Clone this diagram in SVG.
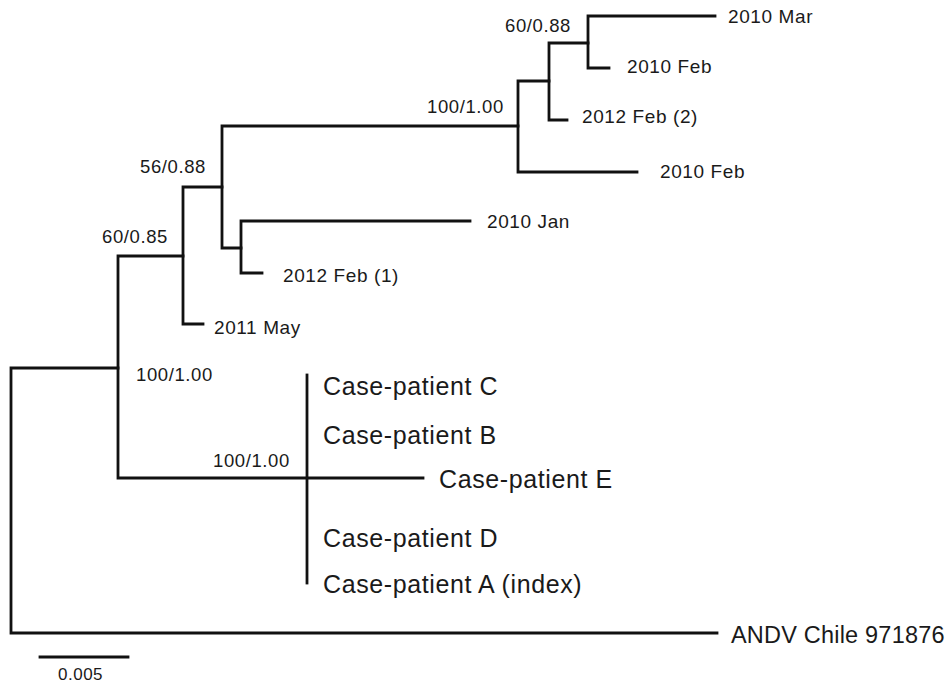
<svg xmlns="http://www.w3.org/2000/svg" width="945" height="685" viewBox="0 0 945 685">
<style>
.br{fill:none;stroke:#111;stroke-width:2.8;stroke-linecap:square;stroke-linejoin:miter}
.lf{font-family:"Liberation Sans",Arial,sans-serif;font-size:19px;letter-spacing:0.6px;fill:#1a1a1a}
.sp{font-family:"Liberation Sans",Arial,sans-serif;font-size:18.5px;letter-spacing:0.6px;fill:#1a1a1a}
.cp{font-family:"Liberation Sans",Arial,sans-serif;font-size:25px;letter-spacing:0.6px;fill:#1a1a1a}
.og{font-family:"Liberation Sans",Arial,sans-serif;font-size:23.5px;letter-spacing:0.2px;fill:#1a1a1a}
.sc{font-family:"Liberation Sans",Arial,sans-serif;font-size:17px;letter-spacing:0.5px;fill:#1a1a1a}
</style>
<rect width="945" height="685" fill="#fff"/>
<g id="connectors">
<path class="br" d="M11,368V633M11,368H118M11,633H717"/>
<path class="br" d="M118,256V478M118,256H183M118,478H423"/>
<path class="br" d="M307,375V583"/>
<path class="br" d="M183,187V324M183,187H222M183,324H203"/>
<path class="br" d="M222,126V248M222,126H518M222,248H241"/>
<path class="br" d="M241,221V273M241,221H470M241,273H262"/>
<path class="br" d="M518,81V172M518,81H549M518,172H637"/>
<path class="br" d="M549,43V120M549,43H588M549,120H567"/>
<path class="br" d="M588,16V68M588,16H715M588,68H609"/>
<path class="br" d="M40,657H128"/>
</g>
<g id="support">
<text class="sp" x="505" y="32">60/0.88</text>
<text class="sp" x="427" y="113">100/1.00</text>
<text class="sp" x="140" y="173">56/0.88</text>
<text class="sp" x="102" y="243">60/0.85</text>
<text class="sp" x="136" y="381">100/1.00</text>
<text class="sp" x="213" y="467">100/1.00</text>
</g>
<g id="leaf-2010-mar"><text class="lf" x="728" y="23">2010 Mar</text></g>
<g id="leaf-2010-feb-a"><text class="lf" x="627" y="73">2010 Feb</text></g>
<g id="leaf-2012-feb-2"><text class="lf" x="582" y="123">2012 Feb (2)</text></g>
<g id="leaf-2010-feb-b"><text class="lf" x="660" y="178">2010 Feb</text></g>
<g id="leaf-2010-jan"><text class="lf" x="487" y="228">2010 Jan</text></g>
<g id="leaf-2012-feb-1"><text class="lf" x="283" y="282">2012 Feb (1)</text></g>
<g id="leaf-2011-may"><text class="lf" x="214" y="334">2011 May</text></g>
<g id="leaf-case-c"><text class="cp" x="323" y="395">Case-patient C</text></g>
<g id="leaf-case-b"><text class="cp" x="323" y="444">Case-patient B</text></g>
<g id="leaf-case-e"><text class="cp" x="439" y="488">Case-patient E</text></g>
<g id="leaf-case-d"><text class="cp" x="323" y="547">Case-patient D</text></g>
<g id="leaf-case-a"><text class="cp" x="323" y="593">Case-patient A (index)</text></g>
<g id="leaf-andv"><text class="og" x="731" y="643">ANDV Chile 971876</text></g>
<g id="scale"><text class="sc" x="58" y="680">0.005</text></g>
</svg>
